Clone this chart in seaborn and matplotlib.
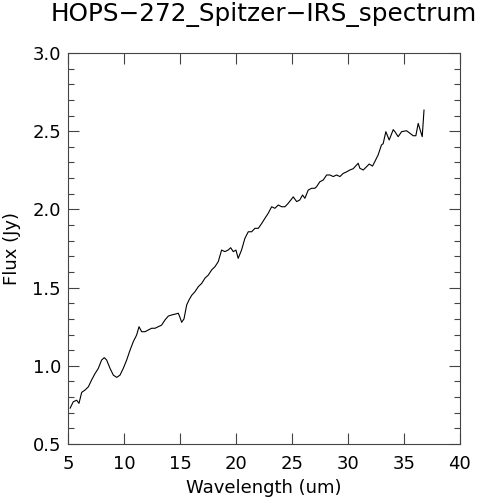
import pandas as pd
import seaborn as sns
from matplotlib import pyplot as plt
from matplotlib.ticker import MultipleLocator

# spectrum
wavelength = [5.18, 5.47, 5.77, 5.98, 6.22, 6.52, 6.82, 7.11, 7.41, 7.71,
              8.0, 8.24, 8.45, 8.75, 9.05, 9.35, 9.64, 9.94, 10.24, 10.54,
              10.83, 11.13, 11.34, 11.58, 11.88, 12.17, 12.47, 12.77, 13.06, 13.36,
              13.66, 13.96, 14.26, 14.55, 14.85, 15.0, 15.15, 15.36, 15.6, 15.8,
              16.04, 16.34, 16.64, 16.94, 17.23, 17.53, 17.83, 18.13, 18.42, 18.72,
              19.02, 19.3, 19.53, 19.76, 20.0, 20.2, 20.5, 20.8, 21.1, 21.4,
              21.7, 22.0, 22.3, 22.59, 22.88, 23.19, 23.48, 23.78, 24.08, 24.38,
              24.67, 25.12, 25.42, 25.7, 25.95, 26.16, 26.46, 26.76, 27.05, 27.2,
              27.5, 27.8, 28.1, 28.4, 28.69, 28.99, 29.29, 29.58, 29.88, 30.18,
              30.47, 30.78, 30.92, 31.07, 31.37, 31.67, 31.9, 32.2, 32.4, 32.7,
              33.0, 33.15, 33.39, 33.69, 34.05, 34.2, 34.49, 34.8, 35.24, 35.54,
              35.83, 36.07, 36.28, 36.64, 36.8]
flux = [0.728, 0.77, 0.78, 0.76, 0.83, 0.845, 0.866, 0.91, 0.95, 0.984,
        1.037, 1.052, 1.037, 0.984, 0.94, 0.926, 0.94, 0.984, 1.037, 1.10,
        1.154, 1.197, 1.25, 1.218, 1.218, 1.229, 1.24, 1.24, 1.25, 1.26,
        1.293, 1.318, 1.325, 1.33, 1.336, 1.31, 1.278, 1.30, 1.389, 1.42,
        1.45, 1.474, 1.506, 1.527, 1.56, 1.58, 1.613, 1.634, 1.666, 1.74,
        1.73, 1.74, 1.755, 1.73, 1.74, 1.687, 1.74, 1.815, 1.857, 1.857,
        1.879, 1.879, 1.91, 1.943, 1.975, 2.017, 2.007, 2.028, 2.017, 2.017,
        2.039, 2.08, 2.05, 2.06, 2.092, 2.071, 2.124, 2.135, 2.135, 2.145,
        2.177, 2.188, 2.22, 2.22, 2.21, 2.22, 2.21, 2.23, 2.24, 2.252,
        2.26, 2.284, 2.295, 2.263, 2.252, 2.273, 2.29, 2.277, 2.305, 2.348,
        2.412, 2.42, 2.497, 2.444, 2.51, 2.497, 2.465, 2.497, 2.503, 2.487,
        2.471, 2.471, 2.55, 2.465, 2.636]

df = pd.DataFrame({'wavelength': wavelength, 'flux': flux})

sns.set_style("ticks")
plt.rcParams['font.family'] = ['DejaVu Sans']
plt.rcParams['text.color'] = 'black'
plt.rcParams['axes.labelcolor'] = 'black'

fig = plt.figure(figsize=(4.79, 5.0), dpi=100)
ax = fig.add_axes([0.142, 0.112, 0.818, 0.782])

sns.lineplot(x='wavelength', y='flux', data=df, ax=ax, color='black',
             linewidth=0.8, sort=False)

ax.set_xlim(5, 40)
ax.set_ylim(0.5, 3.0)
ax.xaxis.set_major_locator(MultipleLocator(5))
ax.yaxis.set_major_locator(MultipleLocator(0.5))
ax.yaxis.set_minor_locator(MultipleLocator(0.1))
ax.yaxis.set_major_formatter(plt.FormatStrFormatter('%.1f'))
ax.tick_params(which='both', direction='in', top=True, right=True,
               colors='#444444', labelcolor='black', labelsize=13, width=0.8)
ax.tick_params(which='major', length=8)
ax.tick_params(which='minor', length=4)
ax.tick_params(axis='x', pad=8)
ax.tick_params(axis='y', pad=5)
for s in ax.spines.values():
    s.set_color('#444444')
    s.set_linewidth(0.8)

ax.set_xlabel('Wavelength (um)', fontsize=13, labelpad=4)
ax.set_ylabel('Flux (Jy)', fontsize=13, labelpad=8)
ax.set_title('HOPS\u2212272_Spitzer\u2212IRS_spectrum', fontsize=17.8, pad=23,
             color='black')

plt.savefig('out.png')
